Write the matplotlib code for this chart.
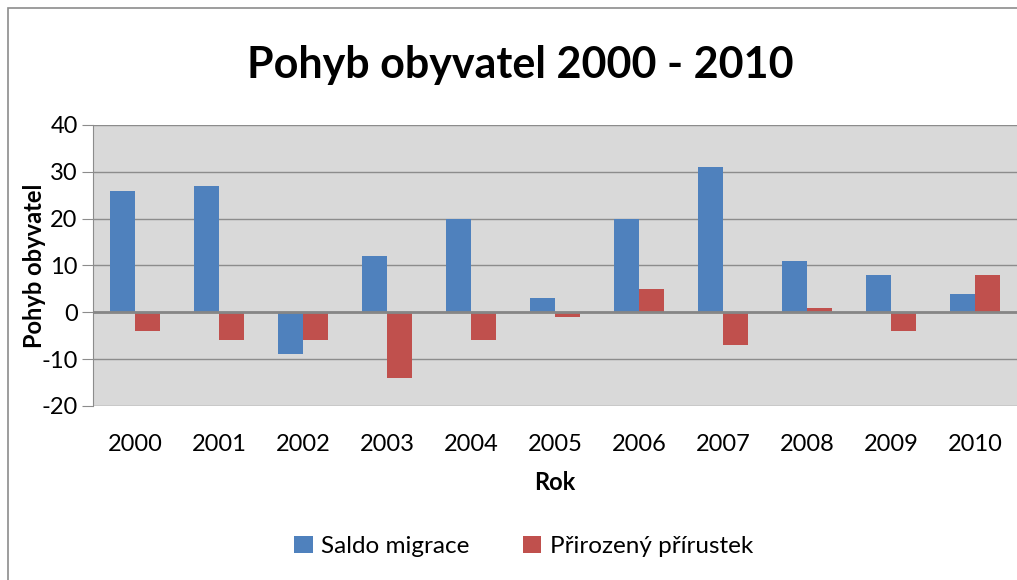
import numpy as np
import matplotlib.pyplot as plt
from matplotlib.patches import Rectangle

plt.rcParams['font.family'] = ['Lato', 'DejaVu Sans']
plt.rcParams['axes.unicode_minus'] = False

# data
roky = ["2000", "2001", "2002", "2003", "2004", "2005", "2006", "2007", "2008", "2009", "2010"]
saldo_migrace = [26, 27, -9, 12, 20, 3, 20, 31, 11, 8, 4]
prirozeny_prirustek = [-4, -6, -6, -14, -6, -1, 5, -7, 1, -4, 8]

fig = plt.figure(figsize=(10.17, 5.8), dpi=100)
ax = fig.add_axes([0.0914, 0.30, 0.9086, 0.4845])

# chart border
fig.patches.append(Rectangle((8 / 1017, -0.1), 1.2, 1 - 8 / 580 + 0.1,
                             transform=fig.transFigure, fill=False,
                             edgecolor="#8c8c8c", linewidth=1.2))

x = np.arange(len(roky))
w = 0.3
ax.set_facecolor("#d9d9d9")
ax.bar(x - w / 2, saldo_migrace, w, color="#4f81bd", label="Saldo migrace", zorder=3)
ax.bar(x + w / 2, prirozeny_prirustek, w, color="#c0504d", label="Přirozený přírustek", zorder=3)

ax.set_xlim(-0.5, len(roky) - 0.5)
ax.set_ylim(-20, 40)
ax.set_yticks(range(-20, 41, 10))
ax.yaxis.grid(True, color="#8c8c8c", linewidth=1, zorder=0)
ax.axhline(0, color="#868686", linewidth=2, zorder=4)

for s in ["top", "right", "bottom"]:
    ax.spines[s].set_visible(False)
ax.spines["left"].set_color("#8c8c8c")
ax.tick_params(axis="y", length=8, color="#8c8c8c", labelsize=17, pad=3)
ax.tick_params(axis="x", length=0, labelsize=17, pad=20)
ax.set_xticks(x)
ax.set_xticklabels(roky)

ax.set_ylabel("Pohyb obyvatel", fontsize=17, fontweight="bold", va="center")
ax.yaxis.set_label_coords(-0.063, 0.5)
ax.set_xlabel("Rok", fontsize=17, fontweight="bold", labelpad=12)
fig.text(0.512, 0.888, "Pohyb obyvatel 2000 - 2010", ha="center", va="center",
         fontsize=31, fontweight="bold")

fig.legend(loc="center", bbox_to_anchor=(0.515, 0.058), ncol=2, frameon=False,
           fontsize=17.5, handlelength=0.75, handleheight=0.75, columnspacing=2.2,
           handletextpad=0.35)

fig.savefig("out.png", dpi=100)
